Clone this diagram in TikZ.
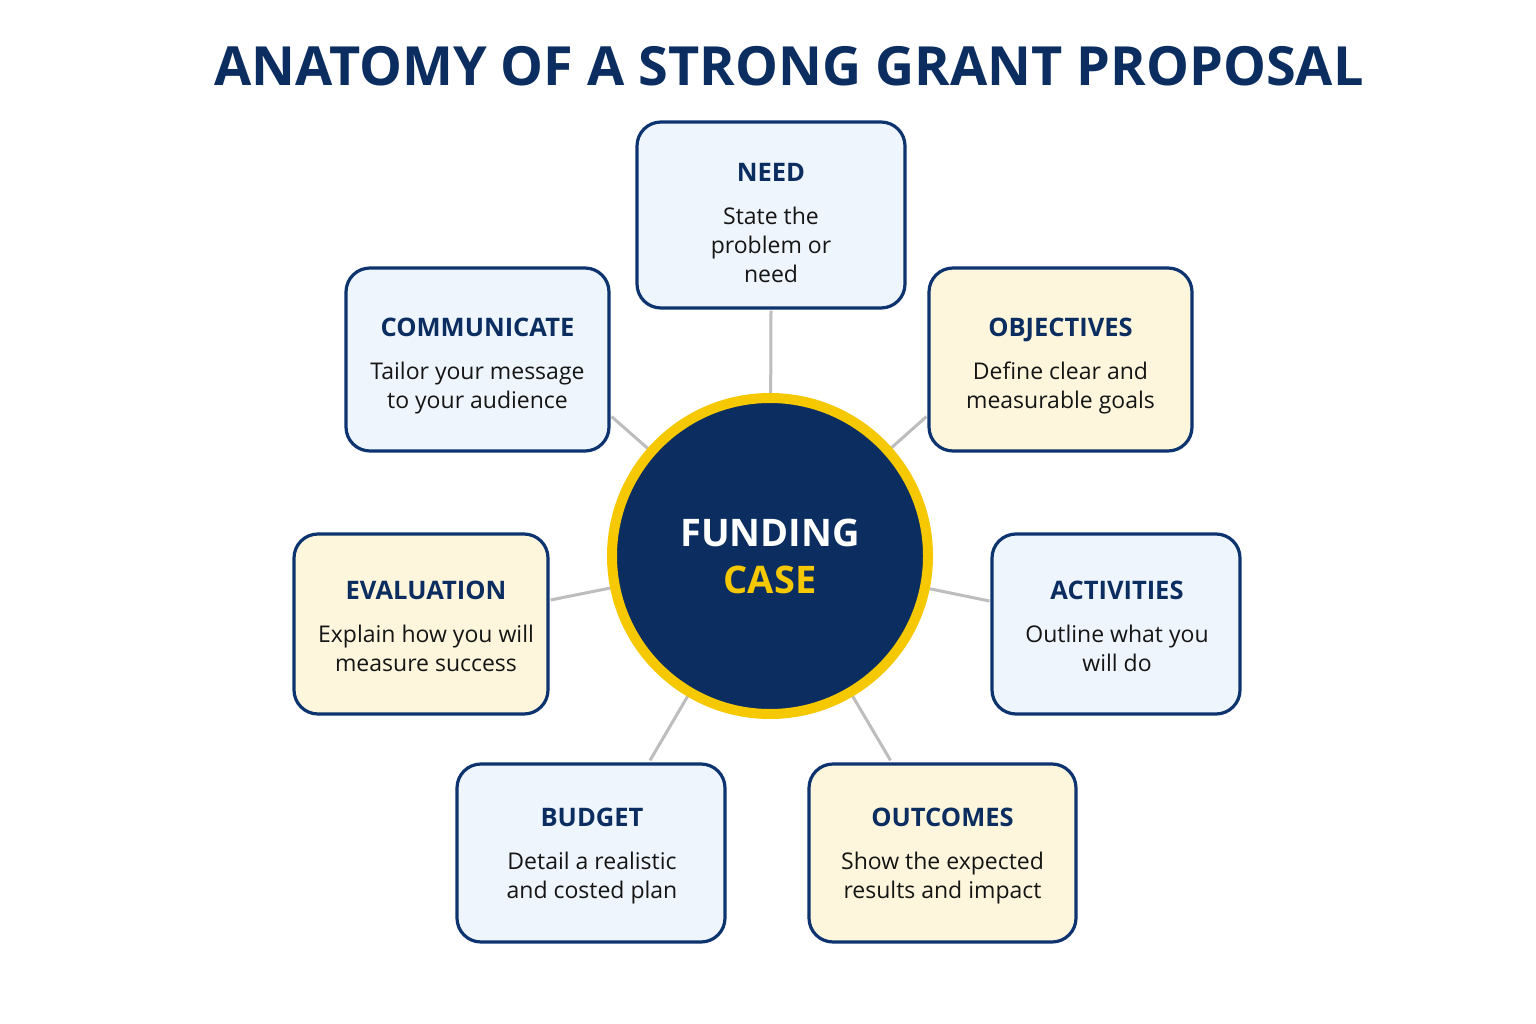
\documentclass[tikz,border=0pt]{standalone}
\usepackage{fontspec}
\setmainfont{Open Sans}
\usetikzlibrary{calc,backgrounds}
\definecolor{navy}{HTML}{0B2D60}
\definecolor{boxline}{HTML}{0E3470}
\definecolor{bluefill}{HTML}{EEF5FD}
\definecolor{creamfill}{HTML}{FDF6DC}
\definecolor{gold}{HTML}{F6C800}
\definecolor{linkgray}{HTML}{BDBDBD}
\definecolor{bodyink}{HTML}{151515}
\newcommand{\hd}[1]{{\fontsize{25.5}{30}\selectfont\bfseries\color{navy}#1}}
\tikzset{
  card/.style={draw=boxline, line width=3.2pt, rounded corners=24pt, inner sep=0pt},
  bluecard/.style={card, fill=bluefill},
  creamcard/.style={card, fill=creamfill},
  cardtext/.style={align=center, font=\fontsize{23}{29}\selectfont, text=bodyink, inner sep=0pt},
  link/.style={draw=linkgray, line width=3pt},
}
\begin{document}
\begin{tikzpicture}[x=1pt,y=-1pt]
\useasboundingbox (0,0) rectangle (1536,1024);
\node[font=\fontsize{54}{64}\selectfont\bfseries, text=navy] (title) at (789,66) {ANATOMY OF A STRONG GRANT PROPOSAL};

\node[bluecard, minimum width=268pt, minimum height=186pt] (need) at (771,215) {};
\node[cardtext] (needT) at ($(need.center)+(0,8)$) {\hd{NEED}\\[14pt]State the\\problem or\\need};
\node[bluecard, minimum width=263pt, minimum height=183pt] (comm) at (477.5,359.5) {};
\node[cardtext] (commT) at ($(comm.center)+(0,7)$) {\hd{COMMUNICATE}\\[14pt]Tailor your message\\to your audience};
\node[creamcard, minimum width=263pt, minimum height=183pt] (obj) at (1060.5,359.5) {};
\node[cardtext] (objT) at ($(obj.center)+(0,7)$) {\hd{OBJECTIVES}\\[14pt]Define clear and\\measurable goals};
\node[creamcard, minimum width=254pt, minimum height=180pt] (eval) at (421,624) {};
\node[cardtext] (evalT) at ($(eval.center)+(5,2)$) {\hd{EVALUATION}\\[14pt]Explain how you will\\measure success};
\node[bluecard, minimum width=248pt, minimum height=180pt] (act) at (1116,624) {};
\node[cardtext] (actT) at ($(act.center)+(1,2)$) {\hd{ACTIVITIES}\\[14pt]Outline what you\\will do};
\node[bluecard, minimum width=268pt, minimum height=178pt] (budget) at (591,853) {};
\node[cardtext] (budgetT) at ($(budget.center)+(1,3)$) {\hd{BUDGET}\\[14pt]Detail a realistic\\and costed plan};
\node[creamcard, minimum width=267pt, minimum height=178pt] (out) at (942.5,853) {};
\node[cardtext] (outT) at ($(out.center)+(0,3)$) {\hd{OUTCOMES}\\[14pt]Show the expected\\results and impact};

\node[circle, fill=navy, draw=gold, line width=10pt, minimum size=316pt, align=center, inner sep=0pt,
  font=\fontsize{38}{47}\selectfont\bfseries] (core) at (770,556)
  {\textcolor{white}{FUNDING}\\\textcolor{gold}{CASE}};

\coordinate (needEnd) at ($(need.south)+(0,1)$);
\coordinate (commEnd) at ($(comm.south east)+(1,-36)$);
\coordinate (objEnd) at ($(obj.south west)+(-1,-36)$);
\coordinate (evalEnd) at ($(eval.east)+(1,-24)$);
\coordinate (actEnd) at ($(act.west)+(-1,-23)$);
\coordinate (budgetEnd) at ($(budget.north)+(59,-2)$);
\coordinate (outEnd) at ($(out.north)+(-52,-2)$);
\begin{scope}[on background layer]
\fill[white] (0,0) rectangle (1536,1024);
\foreach \e in {needEnd,commEnd,objEnd,evalEnd,actEnd,budgetEnd,outEnd}
  \draw[link] (core.center) -- (\e);
\end{scope}
\end{tikzpicture}
\end{document}
